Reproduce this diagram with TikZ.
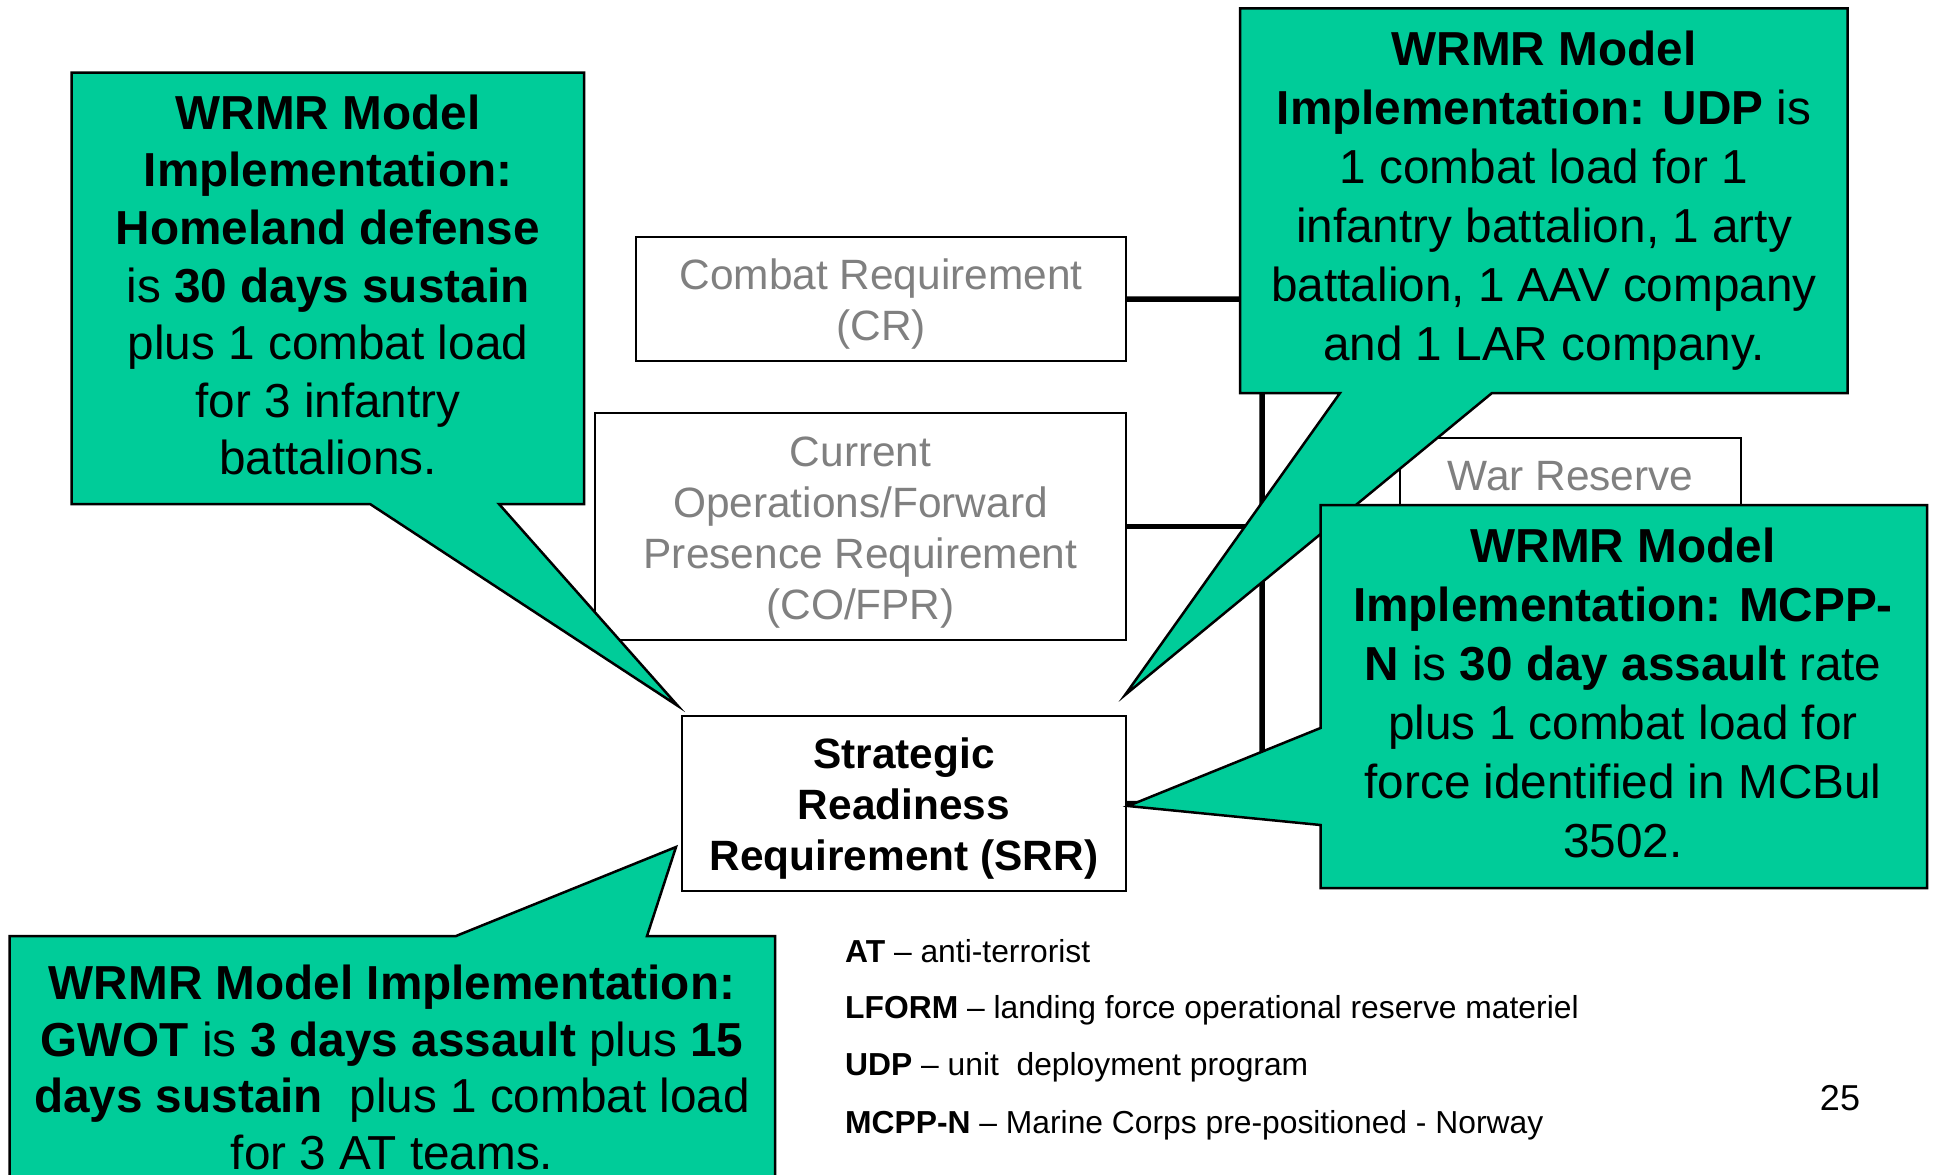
\documentclass[tikz,border=0pt]{standalone}
\usepackage{fontspec}
\setmainfont{Liberation Sans}
\usepackage{xcolor}
\definecolor{wrmrgreen}{RGB}{0,204,153}
\definecolor{reqgray}{RGB}{128,128,128}
\newcommand{\boxstrut}{\rule{0pt}{41pt}}

\begin{document}
\begin{tikzpicture}[x=1pt,y=-1pt,
    reqbox/.style={draw,line width=2pt,fill=white,inner sep=0pt,align=center,
      font=\fontsize{42.4}{51}\selectfont},
    bus/.style={line width=5.5pt},
    callout/.style={draw,line width=2.5pt,fill=wrmrgreen,line join=miter},
    calltext/.style={inner sep=0pt,align=center,font=\fontsize{47.7}{59}\selectfont},
    legend/.style={anchor=base west,inner sep=0pt,font=\fontsize{31.8}{38}\selectfont}]
\useasboundingbox (0,0) rectangle (1933,1175);
\clip (0,0) rectangle (1933,1175);
\fill[white] (0,0) rectangle (1933,1175);

\node[reqbox,text=reqgray,minimum width=490pt,minimum height=124pt] (cr) at (881,299) {\boxstrut Combat Requirement\\(CR)};
\node[reqbox,text=reqgray,minimum width=531pt,minimum height=227pt] (cofpr) at (860.5,526.5) {\boxstrut Current\\Operations/Forward\\Presence Requirement\\(CO/FPR)};
\node[reqbox,minimum width=444pt,minimum height=175pt] (srr) at (904,803.5) {\boxstrut\textbf{Strategic}\\\textbf{Readiness}\\\textbf{Requirement (SRR)}};
\node[reqbox,text=reqgray,minimum width=341pt,minimum height=76pt] (wr) at (1570.5,476) {War Reserve};

\coordinate (bustop) at (1262,299);
\coordinate (busbot) at (1262,804);
\draw[bus] (cr.east) -- (bustop) -- (busbot) -- (srr.east);
\draw[bus] (cofpr.east) -- (cofpr.east -| bustop);

\draw[callout] (71.5,72.7) -- (584,72.7) -- (584,504) -- (499,504) -- (678,706) -- (370,504) -- (71.5,504) -- cycle;
\node[calltext,font=\fontsize{47.7}{57.6}\selectfont] (homeland) at (328,285) {\textbf{WRMR Model}\\\textbf{Implementation:}\\\textbf{Homeland defense}\\is \textbf{30 days sustain}\\plus 1 combat load\\for 3 infantry\\battalions.};

\draw[callout] (1240,8.3) -- (1847.5,8.3) -- (1847.5,393) -- (1492,393) -- (1125,695) -- (1340,393) -- (1240,393) -- cycle;
\node[calltext] (udp) at (1544,201) {\textbf{WRMR Model}\\\textbf{Implementation: UDP} is\\1 combat load for 1\\infantry battalion, 1 arty\\battalion, 1 AAV company\\and 1 LAR company.};

\draw[callout] (1320.5,505) -- (1927,505) -- (1927,888) -- (1320.5,888) -- (1320.5,825) -- (1128,806) -- (1320.5,728) -- cycle;
\node[calltext] (mcpp) at (1623,693) {\textbf{WRMR Model}\\\textbf{Implementation: MCPP-}\\\textbf{N} is \textbf{30 day assault} rate\\plus 1 combat load for\\force identified in MCBul\\3502.};

\draw[callout] (9.6,936) -- (456,936) -- (676,847) -- (647,936) -- (775,936) -- (775,1200) -- (9.6,1200) -- cycle;
\node[calltext,font=\fontsize{47.7}{56.7}\selectfont] (gwot) at (392,1067.5) {\textbf{WRMR Model Implementation:}\\\textbf{GWOT} is \textbf{3 days assault} plus \textbf{15}\\\textbf{days sustain}~ plus 1 combat load\\for 3 AT teams.};

\node[legend] (atdef) at (845,962) {\textbf{AT} – anti-terrorist};
\node[legend] (lformdef) at (845,1018) {\textbf{LFORM} – landing force operational reserve materiel};
\node[legend] (udpdef) at (845,1075) {\textbf{UDP} – unit~ deployment program};
\node[legend] (mcppdef) at (845,1133) {\textbf{MCPP-N} – Marine Corps pre-positioned - Norway};
\node[anchor=base,inner sep=0pt,font=\fontsize{36}{40}\selectfont] (pagenum) at (1840,1110) {25};
\end{tikzpicture}
\end{document}
